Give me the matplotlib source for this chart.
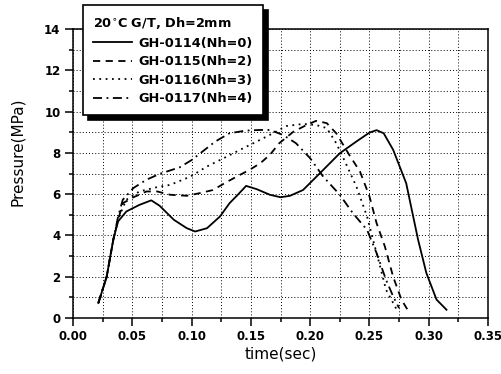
import matplotlib
matplotlib.use("Agg")
import matplotlib.pyplot as plt
from matplotlib.ticker import MultipleLocator

# GH-0114 (Nh=0), solid
t_0114 = [0.0214, 0.0284, 0.034, 0.038, 0.045, 0.056, 0.066, 0.073, 0.085, 0.096,
          0.103, 0.113, 0.124, 0.132, 0.139, 0.146, 0.155, 0.166, 0.175, 0.183,
          0.194, 0.208, 0.225, 0.239, 0.25, 0.256, 0.262, 0.27, 0.281, 0.291,
          0.298, 0.3066, 0.315]
p_0114 = [0.73, 2.0, 3.8, 4.68, 5.16, 5.48, 5.7, 5.44, 4.76, 4.35,
          4.19, 4.35, 4.92, 5.56, 5.97, 6.4, 6.24, 5.97, 5.85, 5.92,
          6.2, 7.0, 7.98, 8.55, 8.98, 9.1, 8.95, 8.15, 6.53, 3.8,
          2.18, 0.89, 0.4]

# GH-0115 (Nh=2), dashed
t_0115 = [0.0214, 0.0284, 0.034, 0.038, 0.042, 0.051, 0.062, 0.071, 0.082, 0.096,
          0.107, 0.118, 0.13, 0.141, 0.149, 0.158, 0.166, 0.174, 0.186, 0.197,
          0.205, 0.214, 0.222, 0.233, 0.242, 0.25, 0.256, 0.263, 0.27, 0.277, 0.283]
p_0115 = [0.73, 2.0, 3.8, 4.75, 5.56, 5.85, 6.13, 6.13, 5.97, 5.92,
          6.05, 6.2, 6.6, 6.94, 7.18, 7.5, 7.9, 8.47, 9.03, 9.35,
          9.55, 9.44, 8.95, 7.9, 7.1, 5.9, 4.6, 3.47, 2.0, 0.89, 0.32]

# GH-0116 (Nh=3), dotted
t_0116 = [0.0214, 0.0284, 0.034, 0.038, 0.045, 0.056, 0.071, 0.082, 0.099, 0.113,
          0.127, 0.141, 0.155, 0.166, 0.18, 0.194, 0.205, 0.214, 0.222, 0.23,
          0.239, 0.248, 0.253, 0.259, 0.264, 0.27, 0.273]
p_0116 = [0.73, 2.0, 3.8, 4.8, 5.73, 6.13, 6.34, 6.45, 6.85, 7.34,
          7.74, 8.15, 8.55, 8.87, 9.3, 9.4, 9.35, 9.2, 8.47, 7.5,
          6.37, 4.92, 3.8, 2.5, 1.37, 0.73, 0.4]

# GH-0117 (Nh=4), dash-dot
t_0117 = [0.0214, 0.0284, 0.034, 0.038, 0.042, 0.051, 0.062, 0.073, 0.09, 0.1,
          0.11, 0.12, 0.132, 0.146, 0.158, 0.166, 0.177, 0.188, 0.2, 0.211,
          0.225, 0.236, 0.248, 0.256, 0.264, 0.27, 0.275]
p_0117 = [0.73, 2.0, 3.8, 4.9, 5.73, 6.3, 6.7, 6.98, 7.3, 7.65,
          8.1, 8.55, 8.95, 9.08, 9.11, 9.11, 8.87, 8.47, 7.74, 6.85,
          5.97, 5.08, 4.27, 3.15, 1.85, 1.05, 0.48]

labels = ["GH-0114(Nh=0)", "GH-0115(Nh=2)", "GH-0116(Nh=3)", "GH-0117(Nh=4)"]
legend_title = "20$^{\\circ}$C G/T, Dh=2mm"

plt.rcParams['font.family'] = ['DejaVu Sans']

fig = plt.figure(figsize=(5.02, 3.74), dpi=100)
ax = fig.add_axes([73 / 502, 1 - 318 / 374, 415 / 502, 289 / 374])

lw = 1.3
ax.plot(t_0114, p_0114, color='black', lw=lw, ls='-', label=labels[0])
ax.plot(t_0115, p_0115, color='black', lw=lw, ls=(0, (4, 3)), label=labels[1])
ax.plot(t_0116, p_0116, color='black', lw=lw, ls=(0, (1, 2.5)), label=labels[2])
ax.plot(t_0117, p_0117, color='black', lw=lw, ls=(0, (5, 2.5, 1, 2.5)), label=labels[3])

ax.set_xlim(0, 0.35)
ax.set_ylim(0, 14)
ax.xaxis.set_major_locator(MultipleLocator(0.05))
ax.xaxis.set_minor_locator(MultipleLocator(0.025))
ax.yaxis.set_major_locator(MultipleLocator(2))
ax.yaxis.set_minor_locator(MultipleLocator(1))
ax.xaxis.set_major_formatter(plt.FormatStrFormatter('%.2f'))

ax.grid(True, which='both', color='black', ls=(0, (1, 2.2)), lw=0.7)
ax.set_axisbelow(True)

ax.tick_params(which='both', direction='out', top=False, right=False, width=1.1)
ax.tick_params(which='major', length=6, labelsize=8.5, pad=3)
ax.tick_params(which='minor', length=3)
for lab in ax.get_xticklabels() + ax.get_yticklabels():
    lab.set_fontweight('bold')
for sp in ax.spines.values():
    sp.set_linewidth(1.1)

ax.set_xlabel("time(sec)", fontsize=11)
ax.set_ylabel("Pressure(MPa)", fontsize=11)
ax.xaxis.set_label_coords(0.5, -0.10)
ax.yaxis.set_label_coords(-0.116, 0.574)

leg = ax.legend(loc='upper left', bbox_to_anchor=(83 / 502, 1 - 5 / 374),
                bbox_transform=fig.transFigure, borderaxespad=0,
                fancybox=False, framealpha=1, edgecolor='black',
                prop={'weight': 'bold', 'size': 9.3},
                title=legend_title,
                title_fontproperties={'weight': 'bold', 'size': 9.3},
                handlelength=3.0, handletextpad=0.5, labelspacing=0.42,
                borderpad=0.8, alignment='left',
                shadow={'ox': 3.6, 'oy': -3.6, 'facecolor': 'black',
                        'edgecolor': 'black', 'alpha': 1})
leg.get_frame().set_linewidth(1.2)
leg.set_zorder(5)

fig.savefig("out.png", dpi=100)
